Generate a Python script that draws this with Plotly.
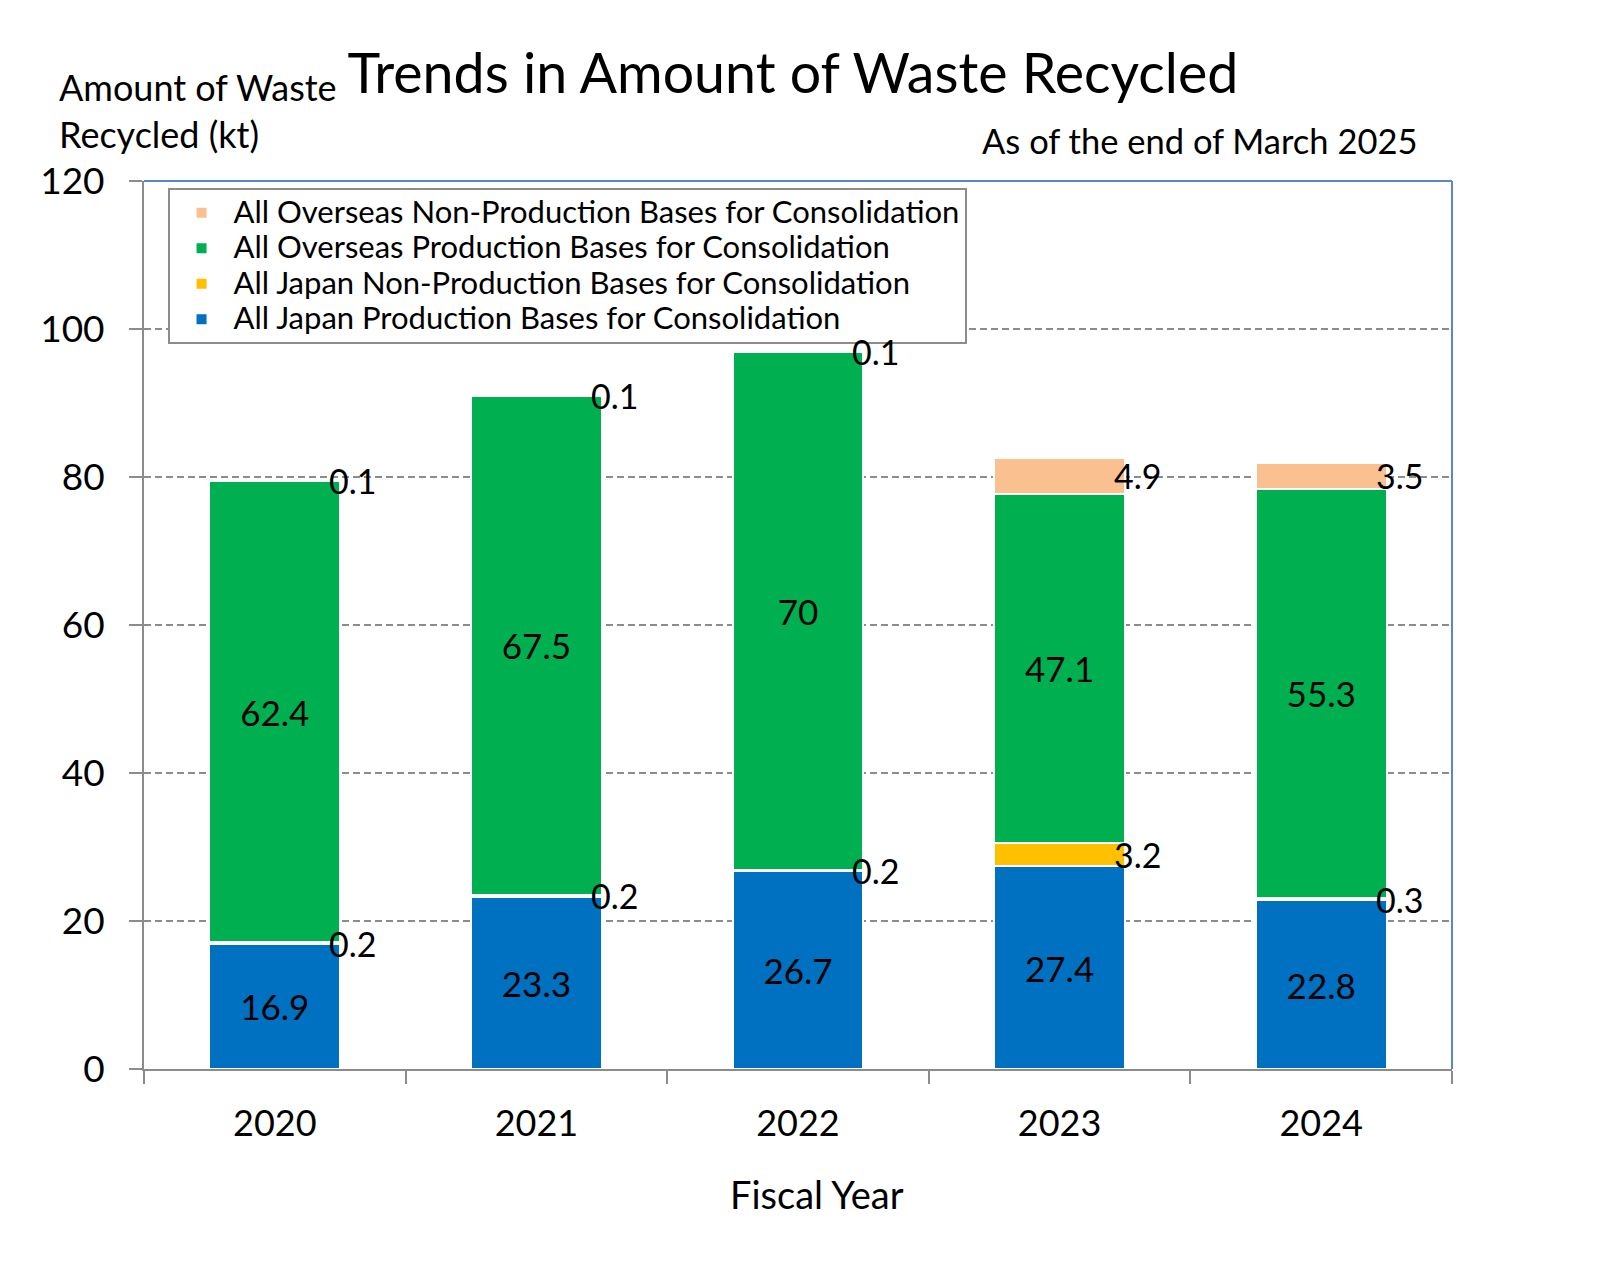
import plotly.graph_objects as go

years = ["2020", "2021", "2022", "2023", "2024"]
japan_prod = [16.9, 23.3, 26.7, 27.4, 22.8]
japan_nonprod = [0.2, 0.2, 0.2, 3.2, 0.3]
overseas_prod = [62.4, 67.5, 70, 47.1, 55.3]
overseas_nonprod = [0.1, 0.1, 0.1, 4.9, 3.5]

series = [
    ("All Japan Production Bases for Consolidation", japan_prod, "#0070C0", True),
    ("All Japan Non-Production Bases for Consolidation", japan_nonprod, "#FFC000", False),
    ("All Overseas Production Bases for Consolidation", overseas_prod, "#00B050", True),
    ("All Overseas Non-Production Bases for Consolidation", overseas_nonprod, "#FAC090", False),
]

FONT = "Lato"
GRAY = "#8C8C8C"
BLUE_BORDER = "#5B87C5"
LEGEND_TEXT_PX = 31

fig = go.Figure()
annotations = []
base = [0.0] * len(years)
for name, vals, color, inside in series:
    fig.add_trace(go.Bar(
        x=years, y=vals,
        name=f'<span style="font-size:{LEGEND_TEXT_PX}px">{name}</span>',
        marker=dict(color=color, line=dict(color="white", width=2)),
        text=[f"{v:g}" for v in vals] if inside else None,
        textposition="inside" if inside else "none",
        insidetextanchor="middle",
        textangle=0,
        textfont=dict(family=FONT, size=35, color="black"),
        constraintext="none",
    ))
    if not inside:
        for i, v in enumerate(vals):
            annotations.append(dict(
                x=i + 0.25, y=base[i] + v / 2, xref="x", yref="y",
                text=f"{v:g}", showarrow=False, xanchor="left", yanchor="middle",
                xshift=-13, font=dict(family=FONT, size=34, color="black"),
            ))
    base = [b + v for b, v in zip(base, vals)]

annotations += [
    dict(x=-0.0665, y=1.079, xref="paper", yref="paper", xanchor="left", yanchor="middle",
         align="left", showarrow=False, text="Amount of Waste<br>Recycled (kt)",
         font=dict(family=FONT, size=36, color="black")),
    dict(x=0.975, y=1.046, xref="paper", yref="paper", xanchor="right", yanchor="middle",
         showarrow=False, text="As of the end of March 2025",
         font=dict(family=FONT, size=34.5, color="black")),
    dict(x=0.5145, y=-0.1408, xref="paper", yref="paper", xanchor="center", yanchor="middle",
         showarrow=False, text="Fiscal Year",
         font=dict(family=FONT, size=38, color="black")),
]

fig.update_layout(
    width=1600, height=1270,
    paper_bgcolor="white", plot_bgcolor="white",
    margin=dict(l=136, r=156, t=173, b=209),
    barmode="stack", bargap=0.5,
    font=dict(family=FONT, color="black"),
    title=dict(text="Trends in Amount of Waste Recycled", xref="container", yref="container",
               x=0.4906, y=0.9485, xanchor="center", yanchor="middle",
               font=dict(family=FONT, size=55.5, color="black")),
    legend=dict(x=0.018, y=0.992, xanchor="left", yanchor="top",
                traceorder="reversed", bgcolor="white", bordercolor=GRAY, borderwidth=2,
                font=dict(family=FONT, size=25, color="black"), tracegroupgap=0,
                itemwidth=54),
    annotations=annotations,
    shapes=[
        dict(type="line", xref="paper", yref="paper", x0=0, x1=1, y0=1, y1=1,
             line=dict(color=BLUE_BORDER, width=2), layer="above"),
        dict(type="line", xref="paper", yref="paper", x0=1, x1=1, y0=0, y1=1,
             line=dict(color=BLUE_BORDER, width=2), layer="above"),
    ],
)

fig.update_xaxes(
    type="category", tickson="boundaries", ticks="outside", ticklen=13,
    tickwidth=2, tickcolor=GRAY, showline=True, linecolor=GRAY, linewidth=2,
    showgrid=False, ticklabelstandoff=22,
    tickfont=dict(family=FONT, size=36, color="black"),
)
fig.update_yaxes(
    range=[0, 120], tickvals=[0, 20, 40, 60, 80, 100, 120], ticks="outside", ticklen=13,
    tickwidth=2, tickcolor=GRAY, showline=True, linecolor=GRAY, linewidth=2,
    showgrid=True, gridcolor=GRAY, gridwidth=2, griddash="7px,4px", zeroline=False,
    ticklabelstandoff=17, tickfont=dict(family=FONT, size=37, color="black"),
)

fig.write_html("out.html")
